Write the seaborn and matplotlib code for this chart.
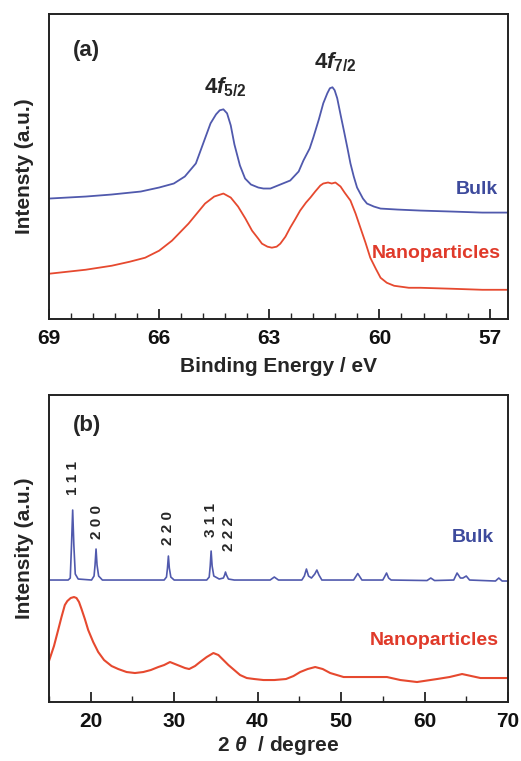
import matplotlib
matplotlib.use("Agg")
import matplotlib.pyplot as plt
import numpy as np
import pandas as pd
import seaborn as sb
from matplotlib.ticker import MultipleLocator

# XPS 4f region (binding energy in eV, intensity a.u.)
xps_energy_bulk = [69.0, 68.0, 67.3, 66.5, 66.0, 65.6, 65.3, 65.0, 64.8, 64.6, 64.45, 64.35,
                   64.25, 64.15, 64.05, 63.95, 63.8, 63.66, 63.5, 63.3, 63.16, 62.97, 62.7,
                   62.43, 62.2, 62.07, 61.9, 61.8, 61.65, 61.53, 61.42, 61.35, 61.28, 61.22,
                   61.15, 61.05, 60.97, 60.87, 60.79, 60.7, 60.61, 60.45, 60.34, 60.15, 59.97,
                   59.5, 58.88, 58.0, 57.2, 56.5]
xps_bulk = [120, 122, 124, 127, 131, 135, 142, 155, 175, 195, 204, 208,
            209, 205, 193, 174, 153, 140, 134, 131, 130, 130, 134,
            138, 147, 158, 170, 181, 199, 215, 225, 230, 231, 228,
            220, 202, 188, 170, 155, 142, 131, 120, 115, 112, 110,
            109, 108, 107, 106, 106]

xps_energy_nano = [69.0, 68.0, 67.29, 66.8, 66.38, 66.0, 65.65, 65.2, 64.75, 64.5, 64.25,
                   64.05, 63.85, 63.65, 63.47, 63.3, 63.2, 63.05, 62.93, 62.8, 62.7, 62.56,
                   62.43, 62.3, 62.16, 62.0, 61.88, 61.75, 61.61, 61.53, 61.4, 61.3, 61.2,
                   61.06, 60.95, 60.79, 60.65, 60.52, 60.38, 60.25, 60.1, 59.97, 59.8, 59.6,
                   59.2, 58.88, 58.0, 57.2, 56.5]
xps_nano = [45, 49, 53, 57, 61, 68, 78, 95, 115, 122, 125,
            121, 112, 100, 88, 80, 75, 72, 71, 72, 75, 82,
            91, 99, 108, 116, 121, 127, 133, 135, 136, 135, 136,
            132, 126, 118, 105, 91, 76, 61, 50, 41, 36, 33,
            31, 31, 30, 29, 29]

# XRD patterns (2 theta in degree, intensity a.u.)
xrd_angle_bulk = [15.0, 17.3, 17.55, 17.7, 17.84, 17.98, 18.15, 18.5, 20.1, 20.4, 20.52, 20.64,
                  20.76, 20.95, 21.4, 28.8, 29.08, 29.2, 29.31, 29.42, 29.6, 30.0, 33.9, 34.2,
                  34.32, 34.43, 34.55, 34.75, 35.4, 35.9, 36.05, 36.15, 36.27, 36.5, 37.2, 41.5,
                  42.0, 42.5, 45.3, 45.6, 45.85, 46.1, 46.45, 46.85, 47.1, 47.35, 47.7, 51.5,
                  52.0, 52.5, 55.0, 55.2, 55.45, 55.7, 56.0, 60.3, 60.75, 61.2, 63.5, 63.9,
                  64.3, 64.6, 65.0, 65.4, 68.5, 68.9, 69.3, 70.0]
xrd_bulk = [122, 122, 124, 157, 192, 157, 128, 123, 122, 126, 137, 153,
            137, 126, 122, 122, 125, 134, 146, 134, 125, 122, 122, 125,
            136, 151, 136, 126, 123, 124, 127, 130, 127, 123, 122, 122,
            125, 122, 122, 126, 133, 126, 124, 128, 132, 127, 122, 122,
            128.5, 122, 122, 125, 129, 124, 122, 121.5, 124, 121.5, 122, 129,
            124, 124, 126, 122, 121, 124, 121, 121]

xrd_angle_nano = [15.0, 15.6, 16.1, 16.5, 16.9, 17.2, 17.6, 18.0, 18.3, 18.6, 18.9, 19.3,
                  19.7, 20.3, 20.9, 21.6, 22.5, 23.3, 24.3, 25.3, 26.3, 27.2, 28.1, 28.8,
                  29.5, 30.1, 30.7, 31.3, 31.8, 32.5, 33.1, 33.9, 34.7, 35.3, 35.9, 36.5,
                  37.2, 37.9, 38.7, 39.6, 40.7, 42.0, 43.4, 44.3, 45.1, 46.0, 46.9, 47.8,
                  48.7, 49.5, 50.3, 51.7, 53.1, 55.5, 57.1, 59.1, 61.5, 63.0, 64.5, 65.6,
                  66.7, 70.0]
xrd_nano = [41, 56, 72, 85, 97, 101, 104, 105, 104, 100, 93, 83,
            72, 60, 50, 42, 36, 33, 30, 29, 30, 32, 35, 37,
            40, 38, 36, 34, 33, 36, 40, 45, 49, 47, 42, 37,
            32, 27, 24, 23, 22, 22, 23, 26, 30, 33, 35, 33,
            29, 27, 25, 25, 25, 25, 22, 20, 23, 25, 28, 26,
            24, 24]

hkl_labels = ["1 1 1", "2 0 0", "2 2 0", "3 1 1", "2 2 2"]
hkl_angle = [17.84, 20.72, 29.28, 34.43, 36.6]
hkl_bottom = [207, 163, 157, 165, 151]

blue = "#5059ad"
red = "#e6492f"
blue_txt = "#3d4a9c"
red_txt = "#e03a2a"

sb.set_theme(style="ticks")
plt.rcParams["font.family"] = ["Liberation Sans", "DejaVu Sans"]
plt.rcParams["font.weight"] = "bold"
plt.rcParams["axes.labelweight"] = "bold"
plt.rcParams["mathtext.fontset"] = "custom"
plt.rcParams["mathtext.rm"] = "Liberation Sans:bold"
plt.rcParams["mathtext.it"] = "Liberation Sans:italic:bold"
plt.rcParams["mathtext.bf"] = "Liberation Sans:bold"

fig = plt.figure(figsize=(5.21, 7.61), dpi=100)
ax1 = fig.add_axes([0.094, 0.581, 0.881, 0.4005])
ax2 = fig.add_axes([0.094, 0.0775, 0.881, 0.4034])

dfA1 = pd.DataFrame({"E": xps_energy_bulk, "I": xps_bulk})
dfA2 = pd.DataFrame({"E": xps_energy_nano, "I": xps_nano})
sb.lineplot(data=dfA1, x="E", y="I", ax=ax1, color=blue, lw=1.3, estimator=None)
sb.lineplot(data=dfA2, x="E", y="I", ax=ax1, color=red, lw=1.3, estimator=None)

dfB1 = pd.DataFrame({"t": xrd_angle_bulk, "I": xrd_bulk})
dfB2 = pd.DataFrame({"t": xrd_angle_nano, "I": xrd_nano})
sb.lineplot(data=dfB1, x="t", y="I", ax=ax2, color=blue, lw=1.2, estimator=None)
sb.lineplot(data=dfB2, x="t", y="I", ax=ax2, color=red, lw=1.5, estimator=None)

# panel (a)
ax1.set_xlim(69, 56.5)
ax1.set_ylim(0, 304)
ax1.xaxis.set_major_locator(MultipleLocator(3))
ax1.xaxis.set_minor_locator(MultipleLocator(0.6))
ax1.set_xlabel("Binding Energy / eV", fontsize=15, labelpad=7)
ax1.set_ylabel("Intensty (a.u.)", fontsize=15, labelpad=11)
ax1.text(68.35, 268, "(a)", fontsize=16, ha="left", va="center")
ax1.text(64.2, 231, "4$f_{5/2}$", fontsize=16, ha="center", va="center")
ax1.text(61.2, 256, "4$f_{7/2}$", fontsize=16, ha="center", va="center")
ax1.text(56.78, 129, "Bulk", fontsize=14, ha="right", va="center", color=blue_txt)
ax1.text(56.7, 65, "Nanoparticles", fontsize=14, ha="right", va="center", color=red_txt)

# panel (b)
ax2.set_xlim(15, 70)
ax2.set_ylim(0, 307)
ax2.xaxis.set_major_locator(MultipleLocator(10))
ax2.xaxis.set_minor_locator(MultipleLocator(5))
ax2.set_xlabel("2 $\\theta$  / degree", fontsize=15, labelpad=2)
ax2.set_ylabel("Intensity (a.u.)", fontsize=15, labelpad=11)
ax2.text(17.88, 277, "(b)", fontsize=16, ha="left", va="center")
ax2.text(68.26, 165, "Bulk", fontsize=14, ha="right", va="center", color=blue_txt)
ax2.text(68.86, 62, "Nanoparticles", fontsize=14, ha="right", va="center", color=red_txt)
for lab, t, b in zip(hkl_labels, hkl_angle, hkl_bottom):
    ax2.text(t, b, lab, fontsize=11, rotation=90, ha="center", va="bottom")

for ax in (ax1, ax2):
    ax.set_yticks([])
    for s in ax.spines.values():
        s.set_visible(True)
        s.set_linewidth(1.4)
        s.set_color("#222222")
    ax.tick_params(axis="x", which="major", direction="in", length=7, width=1.2,
                   labelsize=15, pad=7, colors="#111111")
    ax.tick_params(axis="x", which="minor", direction="in", length=4, width=1.0)
    for lbl in ax.get_xticklabels():
        lbl.set_fontweight("bold")

fig.savefig("out.png", dpi=100)
